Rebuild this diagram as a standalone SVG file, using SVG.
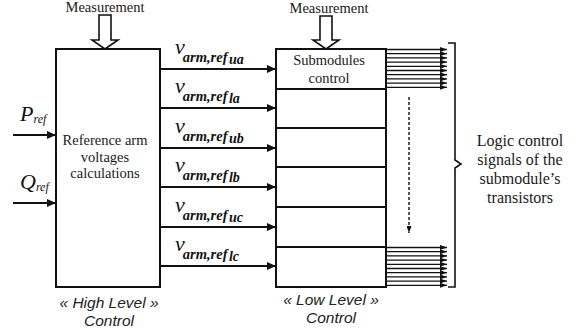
<svg xmlns="http://www.w3.org/2000/svg" width="579" height="335" viewBox="0 0 579 335">
<style>
.box{fill:#fff;stroke:#111;stroke-width:2}
.ln{stroke:#111;stroke-width:2;fill:none}
.fan{stroke:#111;stroke-width:1.3;fill:none}
.ser{font-family:"Liberation Serif",serif;fill:#1a1a1a}
.sans{font-family:"Liberation Sans",Arial,sans-serif;font-style:italic;fill:#222}
.v{font-family:"Liberation Serif",serif;font-style:italic;font-size:22px;fill:#111}
.sub{font-family:"Liberation Serif",serif;font-style:italic;font-weight:bold;font-size:14.5px;fill:#111}
.sub2{font-family:"Liberation Serif",serif;font-style:italic;font-weight:bold;font-size:14px;fill:#111}
.blk{fill:#fff;stroke:#111;stroke-width:1.6}
</style>
<defs>
<marker id="ah" markerUnits="userSpaceOnUse" markerWidth="10" markerHeight="8" refX="9" refY="4" orient="auto">
<path d="M0,0 L9,4 L0,8 Z" fill="#111"/>
</marker>
<marker id="ahs" markerUnits="userSpaceOnUse" markerWidth="7" markerHeight="5" refX="7" refY="2.5" orient="auto">
<path d="M0,0 L7,2.5 L0,5 Z" fill="#111"/>
</marker>
</defs>

<g id="meas-left">
<text class="ser" x="105" y="12" font-size="14.5" text-anchor="middle">Measurement</text>
<path class="blk" d="M99,15 H111 V40 H118 L105,49 L92,40 H99 Z"/>
</g>
<g id="meas-right">
<text class="ser" x="329" y="13" font-size="14.5" text-anchor="middle">Measurement</text>
<path class="blk" d="M320,16 H332 V40 H339 L326,49 L313,40 H320 Z"/>
</g>

<g id="high-level">
<rect class="box" x="56" y="49" width="104" height="238"/>
<text class="ser" font-size="14.5" text-anchor="middle"><tspan x="105" y="145">Reference arm</tspan><tspan x="105" y="161.5">voltages</tspan><tspan x="105" y="178">calculations</tspan></text>
<text class="sans" font-size="15.5" text-anchor="middle"><tspan x="109" y="308">« High Level »</tspan><tspan x="109" y="326">Control</tspan></text>
</g>

<g id="low-level">
<rect class="box" x="276" y="49" width="110" height="238"/>
<path class="ln" d="M276,89 H386 M276,128 H386 M276,167 H386 M276,207 H386 M276,247 H386"/>
<text class="ser" font-size="14.5" text-anchor="middle"><tspan x="329" y="65">Submodules</tspan><tspan x="329" y="83">control</tspan></text>
<text class="sans" font-size="15.5" text-anchor="middle"><tspan x="331" y="305">« Low Level »</tspan><tspan x="331" y="323">Control</tspan></text>
</g>

<g id="inputs">
<text class="v" x="20" y="121">P<tspan font-size="12" dy="2">ref</tspan></text>
<text class="v" x="20" y="189">Q<tspan font-size="12" dy="2">ref</tspan></text>
</g>

<g id="output-label">
<path class="ln" style="stroke-width:1.6" d="M448,43 H455 V160 L461,164 L455,168 V287 H448"/>
<text class="ser" font-size="16" text-anchor="middle"><tspan x="520" y="146">Logic control</tspan><tspan x="520" y="165">signals of the</tspan><tspan x="520" y="184">submodule’s</tspan><tspan x="520" y="203">transistors</tspan></text>
</g>

<g id="ref-labels">
<text x="175" y="54"><tspan class="v">v</tspan><tspan class="sub" dx="-2" dy="8">arm,ref</tspan><tspan class="sub2" dx="1.5" dy="2">ua</tspan></text>
<text x="175" y="93"><tspan class="v">v</tspan><tspan class="sub" dx="-2" dy="8">arm,ref</tspan><tspan class="sub2" dx="1.5" dy="2">la</tspan></text>
<text x="175" y="133"><tspan class="v">v</tspan><tspan class="sub" dx="-2" dy="8">arm,ref</tspan><tspan class="sub2" dx="1.5" dy="2">ub</tspan></text>
<text x="175" y="172"><tspan class="v">v</tspan><tspan class="sub" dx="-2" dy="8">arm,ref</tspan><tspan class="sub2" dx="1.5" dy="2">lb</tspan></text>
<text x="175" y="212"><tspan class="v">v</tspan><tspan class="sub" dx="-2" dy="8">arm,ref</tspan><tspan class="sub2" dx="1.5" dy="2">uc</tspan></text>
<text x="175" y="251"><tspan class="v">v</tspan><tspan class="sub" dx="-2" dy="8">arm,ref</tspan><tspan class="sub2" dx="1.5" dy="2">lc</tspan></text>
</g>

<g id="connectors">
<path class="ln" marker-end="url(#ah)" d="M13,135 H56"/>
<path class="ln" marker-end="url(#ah)" d="M13,203 H56"/>
<path class="ln" marker-end="url(#ah)" d="M160,69 H276"/>
<path class="ln" marker-end="url(#ah)" d="M160,108 H276"/>
<path class="ln" marker-end="url(#ah)" d="M160,148 H276"/>
<path class="ln" marker-end="url(#ah)" d="M160,187 H276"/>
<path class="ln" marker-end="url(#ah)" d="M160,227 H276"/>
<path class="ln" marker-end="url(#ah)" d="M160,266 H276"/>
<g class="fan" marker-end="url(#ahs)">
<path d="M386,49.5 H447"/><path d="M386,53.7 H447"/><path d="M386,57.9 H447"/><path d="M386,62.1 H447"/><path d="M386,66.3 H447"/>
<path d="M386,70.5 H447"/><path d="M386,74.7 H447"/><path d="M386,78.9 H447"/><path d="M386,83.1 H447"/><path d="M386,87.3 H447"/>
<path d="M386,247.5 H447"/><path d="M386,251.7 H447"/><path d="M386,255.9 H447"/><path d="M386,260.1 H447"/><path d="M386,264.3 H447"/>
<path d="M386,268.5 H447"/><path d="M386,272.7 H447"/><path d="M386,276.9 H447"/><path d="M386,281.1 H447"/><path d="M386,285.3 H447"/>
</g>
<path class="ln" style="stroke-width:1.4" stroke-dasharray="3,2" marker-end="url(#ahs)" d="M409,97 V233"/>
</g>
</svg>
